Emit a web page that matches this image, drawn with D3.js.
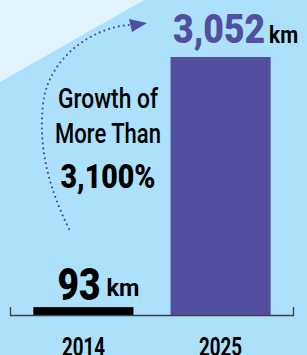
<!DOCTYPE html>
<html>
<head>
<meta charset="utf-8">
<script src="https://cdn.jsdelivr.net/npm/d3@7"></script>
<style>
  html, body { margin: 0; padding: 0; background: #ade1fb; }
  svg { display: block; }
  text { font-family: Roboto, "DejaVu Sans", sans-serif; }
</style>
</head>
<body>
<svg id="chart"></svg>
<script>
// data
var years = ["2014", "2025"];
var lengths = [93, 3052];
var valueLabels = ["93", "3,052"];
var unit = "km";
var growthLines = ["Growth of", "More Than", "3,100%"];

// Variables
var width = 307;
var height = 355;
var purple = "#524ea0";

var svg = d3.select("#chart")
    .attr("width", width)
    .attr("height", height);

// background with the lighter corner
svg.append("rect")
    .attr("width", width).attr("height", height)
    .attr("fill", "#ade1fb");
svg.append("path")
    .attr("d", "M0,0 L144,0 L0,82 Z")
    .attr("fill", "#e1f4fd");

// scales
var x = d3.scaleBand()
    .domain(years)
    .range([10, 294])
    .paddingInner(0.27)
    .paddingOuter(0.17);

var y = d3.scaleLinear()
    .domain([0, d3.max(lengths)])
    .range([315, 57]);

// bars
svg.selectAll("rect.bar")
    .data(years)
    .enter().append("rect")
    .attr("class", "bar")
    .attr("x", function (d) { return x(d); })
    .attr("width", x.bandwidth())
    .attr("y", function (d, i) { return y(lengths[i]); })
    .attr("height", function (d, i) { return y(0) - y(lengths[i]); })
    .attr("fill", function (d, i) { return i == 0 ? "#000" : purple; });

// axis line with end ticks
var axisY = y(0);
svg.append("path")
    .attr("d", "M10.5," + (axisY - 8) + " V" + (axisY + 0.5) + " H293.5 V" + (axisY - 8))
    .attr("fill", "none")
    .attr("stroke", "#3a3f44")
    .attr("stroke-width", 1.3);

// year labels
svg.selectAll("text.year")
    .data(years)
    .enter().append("text")
    .attr("class", "year")
    .attr("x", function (d) { return x(d) + x.bandwidth() / 2; })
    .attr("y", 356)
    .attr("text-anchor", "middle")
    .attr("font-size", 26)
    .attr("font-weight", 700)
    .attr("textLength", 43)
    .attr("lengthAdjust", "spacingAndGlyphs")
    .attr("fill", "#000")
    .text(function (d) { return d; });

// value labels (number + km)
var labelStyle = [
    { size: 45, numW: 43, kmSize: 24, kmW: 33, gap: 6, lift: 7, kmLift: 4, color: "#000" },
    { size: 40, numW: 92, kmSize: 23, kmW: 29, gap: 4, lift: 14, kmLift: 0, color: purple }
];

years.forEach(function (yr, i) {
    var s = labelStyle[i];
    var total = s.numW + s.gap + s.kmW;
    var cx = x(yr) + x.bandwidth() / 2 + 15;
    var x0 = cx - total / 2;
    var base = y(lengths[i]) - s.lift;

    svg.append("text")
        .attr("x", x0)
        .attr("y", base)
        .attr("font-size", s.size)
        .attr("font-weight", 900)
        .attr("textLength", s.numW)
        .attr("lengthAdjust", "spacingAndGlyphs")
        .attr("fill", s.color)
        .text(valueLabels[i]);

    svg.append("text")
        .attr("x", x0 + s.numW + s.gap)
        .attr("y", base - s.kmLift)
        .attr("font-size", s.kmSize)
        .attr("font-weight", 700)
        .attr("textLength", s.kmW)
        .attr("lengthAdjust", "spacingAndGlyphs")
        .attr("fill", "#000")
        .text(unit);
});

// growth note
var noteStyle = [
    { yb: 108, size: 27, w: 100, weight: 500 },
    { yb: 143, size: 28, w: 106, weight: 500 },
    { yb: 188, size: 33, w: 95, weight: 900 }
];
svg.selectAll("text.note")
    .data(growthLines)
    .enter().append("text")
    .attr("class", "note")
    .attr("x", 108)
    .attr("y", function (d, i) { return noteStyle[i].yb; })
    .attr("text-anchor", "middle")
    .attr("font-size", function (d, i) { return noteStyle[i].size; })
    .attr("font-weight", function (d, i) { return noteStyle[i].weight; })
    .attr("textLength", function (d, i) { return noteStyle[i].w; })
    .attr("lengthAdjust", "spacingAndGlyphs")
    .attr("fill", "#000")
    .text(function (d) { return d; });

// dotted arrow
svg.append("path")
    .attr("d", "M69,229 C50,190 38,150 43,105 C47,60 90,28 129,25")
    .attr("fill", "none")
    .attr("stroke", purple)
    .attr("stroke-width", 2.2)
    .attr("stroke-linecap", "round")
    .attr("stroke-dasharray", "0,5");

svg.append("path")
    .attr("d", "M129,19 L147,23 L132,32 Z")
    .attr("fill", purple);
</script>
</body>
</html>
